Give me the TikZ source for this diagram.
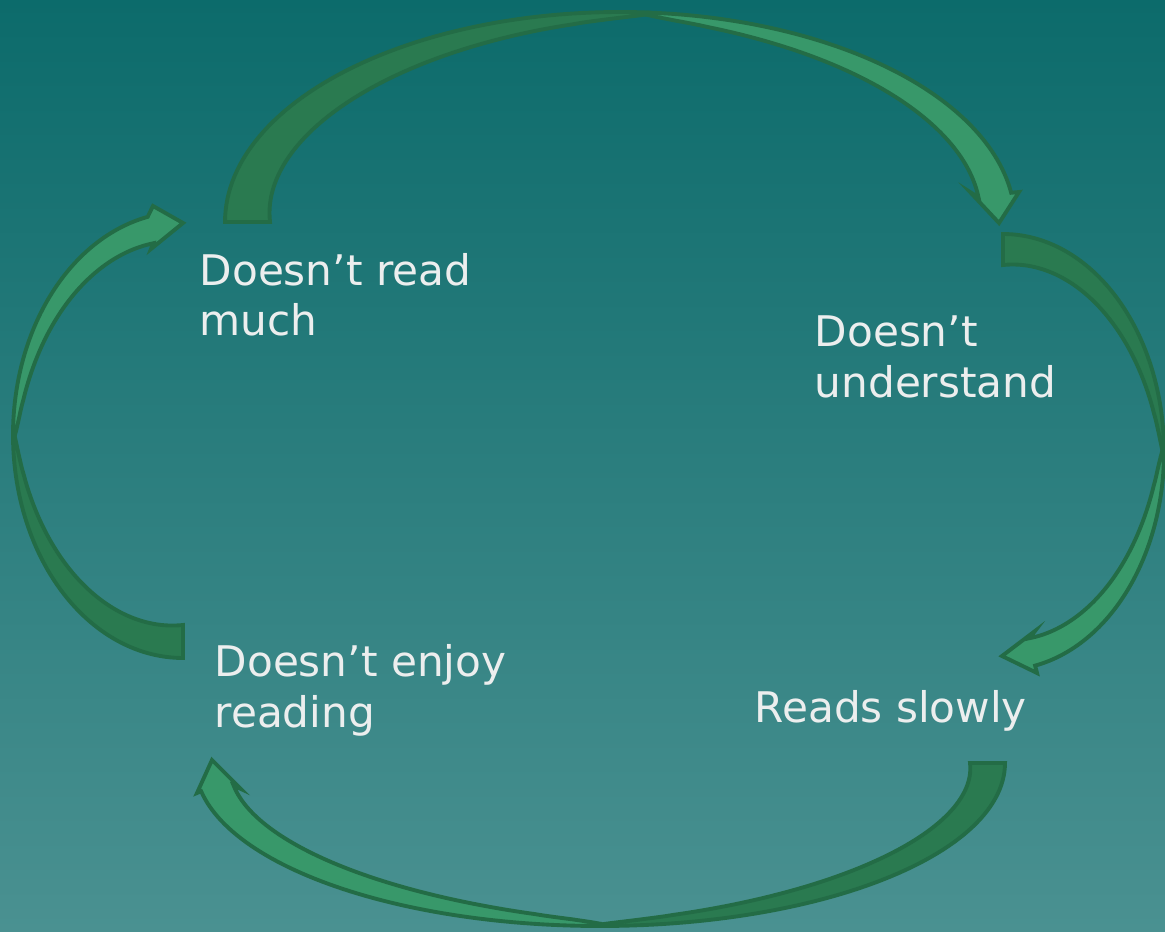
\documentclass[tikz,border=0pt]{standalone}
\usepackage{fontspec}
\setsansfont{DejaVu Sans}

\definecolor{bgtop}{RGB}{12,107,107}
\definecolor{bgbot}{RGB}{74,145,145}
\definecolor{ribbondark}{RGB}{42,122,80}
\definecolor{ribbonlight}{RGB}{56,152,106}
\definecolor{ribbonedge}{RGB}{35,108,70}
\definecolor{labeltext}{RGB}{236,238,238}

\begin{document}
\begin{tikzpicture}[x=0.01cm,y=-0.01cm,
    back/.style={fill=ribbondark,draw=ribbonedge,line width=1.1pt},
    front/.style={fill=ribbonlight,draw=ribbonedge,line width=1.1pt},
    lbl/.style={anchor=base west,inner sep=0pt,align=left,text=labeltext,
        font=\sffamily\fontsize{12}{14.3}\selectfont}]
                    \useasboundingbox (0,0) rectangle (1165,931);
                    \fill[top color=bgtop,bottom color=bgbot] (0,0) rectangle (1165,931);

                    % top arrow, tail left, head right
                    \path[back] plot[domain=180:86,samples=60,variable=\t] ({620+395*cos(\t)},{222-210*sin(\t)})
                        -- plot[domain=86:180,samples=60,variable=\t]
                        ({620+(395-45*((\t-85)/95)^0.7)*cos(\t)},{222-(210-45*((\t-85)/95)^0.7)*sin(\t)}) -- cycle;
                    \path[front] plot[domain=86:8,samples=60,variable=\t] ({620+395*cos(\t)},{222-210*sin(\t)})
                        -- (1019,192) -- (999,223) -- (970,192)
                        -- plot[domain=8:86,samples=60,variable=\t]
                        ({620+(395-33*((87-\t)/79)^0.6)*cos(\t)},{222-(210-33*((87-\t)/79)^0.6)*sin(\t)}) -- cycle;

                    % right arrow, tail top, head bottom
                    \path[back] plot[domain=90:0,samples=60,variable=\t] ({1003+161*cos(\t)},{452-218*sin(\t)})
                        -- plot[domain=0:90,samples=60,variable=\t]
                        ({1003+(161-31*((\t+1)/91)^0.7)*cos(\t)},{452-(218-31*((\t+1)/91)^0.7)*sin(\t)}) -- cycle;
                    \path[front] plot[domain=0:-78.5,samples=60,variable=\t] ({1003+161*cos(\t)},{452-218*sin(\t)})
                        -- (1037,673) -- (1002,656) -- (1035,631)
                        -- plot[domain=-78.5:0,samples=60,variable=\t]
                        ({1003+(161-28*((1-\t)/79.5)^0.6)*cos(\t)},{452-(218-28*((1-\t)/79.5)^0.6)*sin(\t)}) -- cycle;

                    % bottom arrow, tail right, head left
                    \path[back] plot[domain=0:-90,samples=60,variable=\t] ({600+405*cos(\t)},{763-163*sin(\t)})
                        -- plot[domain=-90:0,samples=60,variable=\t]
                        ({600+(405-35*((\t+91)/91)^0.7)*cos(\t)},{763-(163-35*((\t+91)/91)^0.7)*sin(\t)}) -- cycle;
                    \path[front] plot[domain=-90:-170,samples=60,variable=\t] ({600+405*cos(\t)},{763-163*sin(\t)})
                        -- (197,793) -- (212,760) -- (241,789)
                        -- plot[domain=-170:-90,samples=60,variable=\t]
                        ({600+(405-33*((-89-\t)/81)^0.6)*cos(\t)},{763-(163-33*((-89-\t)/81)^0.6)*sin(\t)}) -- cycle;

                    % left arrow, tail bottom, head top
                    \path[back] plot[domain=270:180,samples=60,variable=\t] ({183+170*cos(\t)},{435-223*sin(\t)})
                        -- plot[domain=180:270,samples=60,variable=\t]
                        ({183+(170-33*((\t-179)/91)^0.7)*cos(\t)},{435-(223-33*((\t-179)/91)^0.7)*sin(\t)}) -- cycle;
                    \path[front] plot[domain=180:102,samples=60,variable=\t] ({183+170*cos(\t)},{435-223*sin(\t)})
                        -- (153,206) -- (183,223) -- (151,249)
                        -- plot[domain=102:180,samples=60,variable=\t]
                        ({183+(170-27*((181-\t)/79)^0.6)*cos(\t)},{435-(223-27*((181-\t)/79)^0.6)*sin(\t)}) -- cycle;

                    \node[lbl] (R) at (199,336) {Doesn’t read\\much};
                    \node[lbl] (U) at (814,397) {Doesn’t\\understand};
                    \node[lbl] (S) at (754,722) {Reads slowly};
                    \node[lbl] (E) at (214,727) {Doesn’t enjoy\\reading};
                    \end{tikzpicture}
\end{document}
